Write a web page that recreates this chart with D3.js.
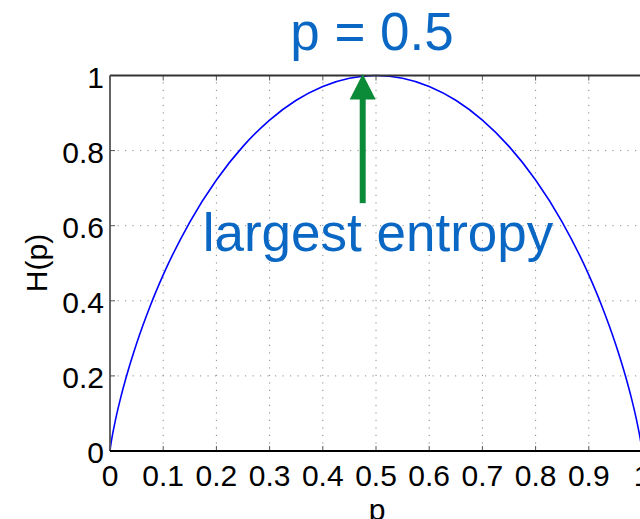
<!DOCTYPE html>
<html>
<head>
<meta charset="utf-8">
<script src="https://cdn.jsdelivr.net/npm/d3@7/dist/d3.min.js"></script>
<style>
  html, body { margin: 0; padding: 0; background: #fff; }
  svg { display: block; }
  text { font-family: "Liberation Sans", Arial, Helvetica, sans-serif; }
</style>
</head>
<body>
<svg id="chart" width="640" height="519"></svg>
<script>
// Binary entropy H(p), sampled densely near the ends where the curve is steep
const pValues = [0, 0.001, 0.005, 0.01, 0.02, 0.03, 0.05, 0.075, 0.1, 0.15, 0.2, 0.25, 0.3, 0.35, 0.4, 0.45, 0.5,
                 0.55, 0.6, 0.65, 0.7, 0.75, 0.8, 0.85, 0.9, 0.925, 0.95, 0.97, 0.98, 0.99, 0.995, 0.999, 1];
const hValues = [0, 0.0114, 0.0454, 0.0808, 0.1414, 0.1944, 0.2864, 0.3843, 0.4690, 0.6098, 0.7219, 0.8113, 0.8813, 0.9341, 0.9710, 0.9928, 1,
                 0.9928, 0.9710, 0.9341, 0.8813, 0.8113, 0.7219, 0.6098, 0.4690, 0.3843, 0.2864, 0.1944, 0.1414, 0.0808, 0.0454, 0.0114, 0];

const xTicks = [0, 0.1, 0.2, 0.3, 0.4, 0.5, 0.6, 0.7, 0.8, 0.9, 1];
const xTickLabels = ["0", "0.1", "0.2", "0.3", "0.4", "0.5", "0.6", "0.7", "0.8", "0.9", "1"];
const yTicks = [0, 0.2, 0.4, 0.6, 0.8, 1];
const yTickLabels = ["0", "0.2", "0.4", "0.6", "0.8", "1"];

// Arrow pointing at the maximum, with its annotation
const arrowP = [0.475];
const arrowFrom = [0.66];
const arrowTo = [1.0];
const titleText = "p = 0.5";
const noteText = "largest entropy";

const svg = d3.select("#chart");
const x = d3.scaleLinear().domain([0, 1]).range([110, 642]);
const y = d3.scaleLinear().domain([0, 1]).range([451, 75.5]);

const blueText = "#0a68c4";
const green = "#0b8a38";

// dotted grid
const grid = svg.append("g");
grid.selectAll("line.gx").data(xTicks.slice(1, -1)).join("line")
  .attr("x1", d => x(d)).attr("x2", d => x(d))
  .attr("y1", y(0)).attr("y2", y(1))
  .attr("stroke", "#8a8a8a").attr("stroke-width", 1)
  .attr("stroke-dasharray", "1.2,6.3");
grid.selectAll("line.gy").data(yTicks.slice(1, -1)).join("line")
  .attr("x1", x(0)).attr("x2", x(1))
  .attr("y1", d => y(d)).attr("y2", d => y(d))
  .attr("stroke", "#8a8a8a").attr("stroke-width", 1)
  .attr("stroke-dasharray", "1.2,6.3");

// inward ticks on all sides
const tk = svg.append("g").attr("stroke", "#555").attr("stroke-width", 1);
tk.selectAll("line.tb").data(xTicks).join("line")
  .attr("x1", d => x(d)).attr("x2", d => x(d)).attr("y1", y(0)).attr("y2", y(0) - 5);
tk.selectAll("line.tt").data(xTicks).join("line")
  .attr("x1", d => x(d)).attr("x2", d => x(d)).attr("y1", y(1)).attr("y2", y(1) + 5);
tk.selectAll("line.tl").data(yTicks).join("line")
  .attr("x1", x(0)).attr("x2", x(0) + 5).attr("y1", d => y(d)).attr("y2", d => y(d));

// entropy curve
const line = d3.line().x((d, i) => x(pValues[i])).y(d => y(d)).curve(d3.curveMonotoneX);
svg.append("path").datum(hValues)
  .attr("d", line)
  .attr("fill", "none").attr("stroke", "#0000ff").attr("stroke-width", 1.6);

// axes frame
svg.append("line").attr("x1", x(0)).attr("x2", x(1)).attr("y1", y(1)).attr("y2", y(1))
  .attr("stroke", "#333").attr("stroke-width", 2);
svg.append("line").attr("x1", x(0)).attr("x2", x(0)).attr("y1", y(0)).attr("y2", y(1))
  .attr("stroke", "#555").attr("stroke-width", 1.8);
svg.append("line").attr("x1", x(0)).attr("x2", x(1)).attr("y1", y(0)).attr("y2", y(0))
  .attr("stroke", "#000").attr("stroke-width", 2.2);

// tick labels
svg.append("g").selectAll("text").data(xTicks).join("text")
  .attr("x", d => x(d)).attr("y", y(0) + 34.5)
  .attr("text-anchor", "middle").attr("font-size", 30).attr("fill", "#000")
  .text((d, i) => xTickLabels[i]);
svg.append("g").selectAll("text").data(yTicks).join("text")
  .attr("x", x(0) - 6).attr("y", d => y(d) + 12)
  .attr("text-anchor", "end").attr("font-size", 30).attr("fill", "#000")
  .text((d, i) => yTickLabels[i]);

// axis titles
svg.append("text").attr("x", 377).attr("y", 520)
  .attr("text-anchor", "middle").attr("font-size", 30).attr("fill", "#000").text("p");
svg.append("text").attr("transform", "translate(47,263) rotate(-90)")
  .attr("text-anchor", "middle").attr("font-size", 30).attr("fill", "#000").text("H(p)");

// arrow
const ax = x(arrowP[0]);
svg.append("line").attr("x1", ax).attr("x2", ax)
  .attr("y1", y(arrowFrom[0])).attr("y2", y(arrowTo[0]) + 22)
  .attr("stroke", green).attr("stroke-width", 6);
svg.append("path")
  .attr("d", `M${ax},${y(arrowTo[0]) - 1.5} L${ax - 13},${y(arrowTo[0]) + 24} L${ax + 13},${y(arrowTo[0]) + 24} Z`)
  .attr("fill", green);

// annotations
svg.append("text").attr("x", 372).attr("y", 50)
  .attr("text-anchor", "middle").attr("font-size", 53).attr("fill", blueText).text(titleText);
svg.append("text").attr("x", 378).attr("y", 251)
  .attr("text-anchor", "middle").attr("font-size", 53).attr("fill", blueText).text(noteText);
</script>
</body>
</html>
